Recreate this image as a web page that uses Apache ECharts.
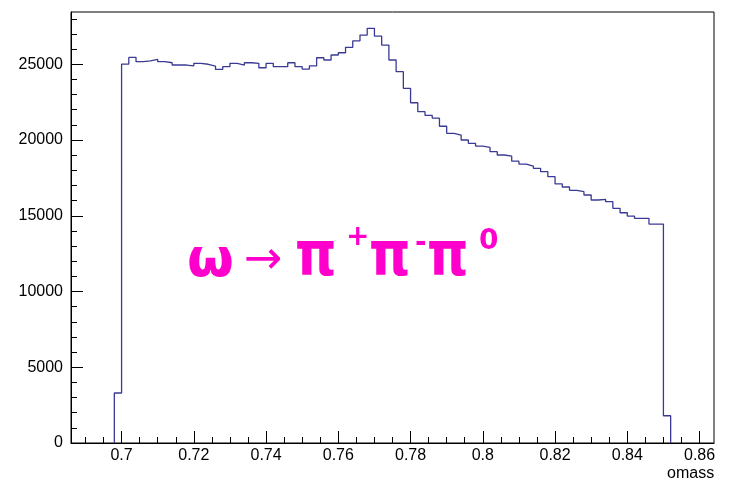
<!DOCTYPE html>
<html><head><meta charset="utf-8">
<script src="https://cdn.jsdelivr.net/npm/echarts@6/dist/echarts.min.js"></script>
<style>html,body{margin:0;padding:0;background:#fff}#c{width:731px;height:482px}</style>
</head><body><div id="c"></div>
<script>
// histogram: lower edge of first filled bin and bin width
const binStart = 0.698;
const binWidth = 0.002;
// counts per bin, bins 0.698 ... 0.850
const counts = [
  3300, 25010, 25450, 25170, 25230, 25320, 25170, 25100, 24950, 24950,
  24900, 25060, 25000, 24880, 24660, 24840, 25060, 24950, 25100, 25060,
  24770, 25060, 24840, 24840, 25100, 24840, 24680, 24900, 25430, 25280,
  25610, 25760, 26120, 26550, 26930, 27370, 26860, 26270, 25280, 24510,
  23410, 22460, 21870, 21620, 21440, 20910, 20440, 20330, 20000, 19780,
  19600, 19510, 19230, 19010, 18940, 18600, 18410, 18280, 18130, 17910,
  17580, 17100, 16900, 16680, 16590, 16370, 16040, 16080, 15930, 15490,
  15200, 14980, 14830, 14830, 14450, 14450, 1800
];
const xTickValues = [0.70, 0.72, 0.74, 0.76, 0.78, 0.80, 0.82, 0.84, 0.86];
const xTickLabels = ['0.7', '0.72', '0.74', '0.76', '0.78', '0.8', '0.82', '0.84', '0.86'];
const yTickValues = [0, 5000, 10000, 15000, 20000, 25000];
const yTickLabels = ['0', '5000', '10000', '15000', '20000', '25000'];
const xAxisTitle = 'omass';

const X_MIN = 0.686, X_MAX = 0.864, Y_MIN = 0, Y_MAX = 28450;

// outline points of the histogram (bin edges x count)
const pts = [[binStart, 0]];
counts.forEach((v, i) => {
  const lo = +(binStart + i * binWidth).toFixed(4);
  const hi = +(binStart + (i + 1) * binWidth).toFixed(4);
  pts.push([lo, v], [hi, v]);
});
pts.push([+(binStart + counts.length * binWidth).toFixed(4), 0]);

// minor ticks
const xMinor = [];
for (let k = 138; k <= 172; k++) { if (k % 4 !== 0) xMinor.push(+(k * 0.005).toFixed(4)); }
const yMinor = [];
for (let k = 1; k <= 28; k++) { if (k % 5 !== 0) yMinor.push(k * 1000); }

const FONT = '"Liberation Sans", Arial, Helvetica, sans-serif';
const MAG = '#ff00cc';

function lab(vals, labels) {
  return function (v) {
    let best = 0;
    for (let i = 1; i < vals.length; i++) if (Math.abs(vals[i] - v) < Math.abs(vals[best] - v)) best = i;
    return labels[best];
  };
}

function piText(x) {
  return { type: 'text', x: x, y: 259, scaleX: 0.85, style: { text: 'π', font: 'bold 62px "DejaVu Sans"', fill: MAG, textAlign: 'left', textVerticalAlign: 'middle' } };
}

const chart = echarts.init(document.getElementById('c'), null, { renderer: 'canvas' });
chart.setOption({
  animation: false,
  backgroundColor: '#fff',
  grid: { left: 71, right: 17, top: 12, bottom: 39, show: true, borderColor: '#000', borderWidth: 1, backgroundColor: 'transparent' },
  xAxis: [
    {
      type: 'value', min: X_MIN, max: X_MAX, position: 'bottom',
      axisLine: { show: true, lineStyle: { color: '#000', width: 1 } },
      axisTick: { show: true, inside: true, length: 12, customValues: xTickValues, lineStyle: { color: '#000', width: 1 } },
      axisLabel: { customValues: xTickValues, formatter: lab(xTickValues, xTickLabels), fontSize: 16, color: '#000', margin: 5, fontFamily: FONT },
      splitLine: { show: false }
    },
    {
      type: 'value', min: X_MIN, max: X_MAX, position: 'bottom',
      axisLine: { show: false },
      axisTick: { show: true, inside: true, length: 6, customValues: xMinor, lineStyle: { color: '#000', width: 1 } },
      axisLabel: { show: false },
      splitLine: { show: false }
    }
  ],
  yAxis: [
    {
      type: 'value', min: Y_MIN, max: Y_MAX, position: 'left',
      axisLine: { show: true, lineStyle: { color: '#000', width: 1 } },
      axisTick: { show: true, inside: true, length: 12, customValues: yTickValues, lineStyle: { color: '#000', width: 1 } },
      axisLabel: { customValues: yTickValues, formatter: lab(yTickValues, yTickLabels), fontSize: 16, color: '#000', margin: 8, fontFamily: FONT },
      splitLine: { show: false }
    },
    {
      type: 'value', min: Y_MIN, max: Y_MAX, position: 'left',
      axisLine: { show: false },
      axisTick: { show: true, inside: true, length: 6, customValues: yMinor, lineStyle: { color: '#000', width: 1 } },
      axisLabel: { show: false },
      splitLine: { show: false }
    }
  ],
  series: [{
    type: 'line', xAxisIndex: 0, yAxisIndex: 0, data: pts,
    symbol: 'none', showSymbol: false,
    lineStyle: { color: '#3a3a94', width: 1.3 },
    silent: true
  }],
  graphic: [
    { type: 'text', x: 667, y: 474, style: { text: xAxisTitle, font: '16px ' + FONT, fill: '#000', textAlign: 'left', textVerticalAlign: 'middle' } },
    { type: 'text', x: 187, y: 262, style: { text: 'ω', font: 'bold 54px "DejaVu Sans"', fill: MAG, textAlign: 'left', textVerticalAlign: 'middle' } },
    { type: 'text', x: 244, y: 261, style: { text: '→', font: '46px "DejaVu Sans"', fill: MAG, textAlign: 'left', textVerticalAlign: 'middle' } },
    piText(295),
    { type: 'text', x: 346, y: 238, style: { text: '+', font: 'bold 28px "DejaVu Sans"', fill: MAG, textAlign: 'left', textVerticalAlign: 'middle' } },
    piText(369),
    { type: 'text', x: 415, y: 244, style: { text: '-', font: 'bold 28px "DejaVu Sans"', fill: MAG, textAlign: 'left', textVerticalAlign: 'middle' } },
    piText(427),
    { type: 'text', x: 479, y: 242, style: { text: '0', font: 'bold 28px "DejaVu Sans"', fill: MAG, textAlign: 'left', textVerticalAlign: 'middle' } }
  ]
});
</script>
</body></html>
